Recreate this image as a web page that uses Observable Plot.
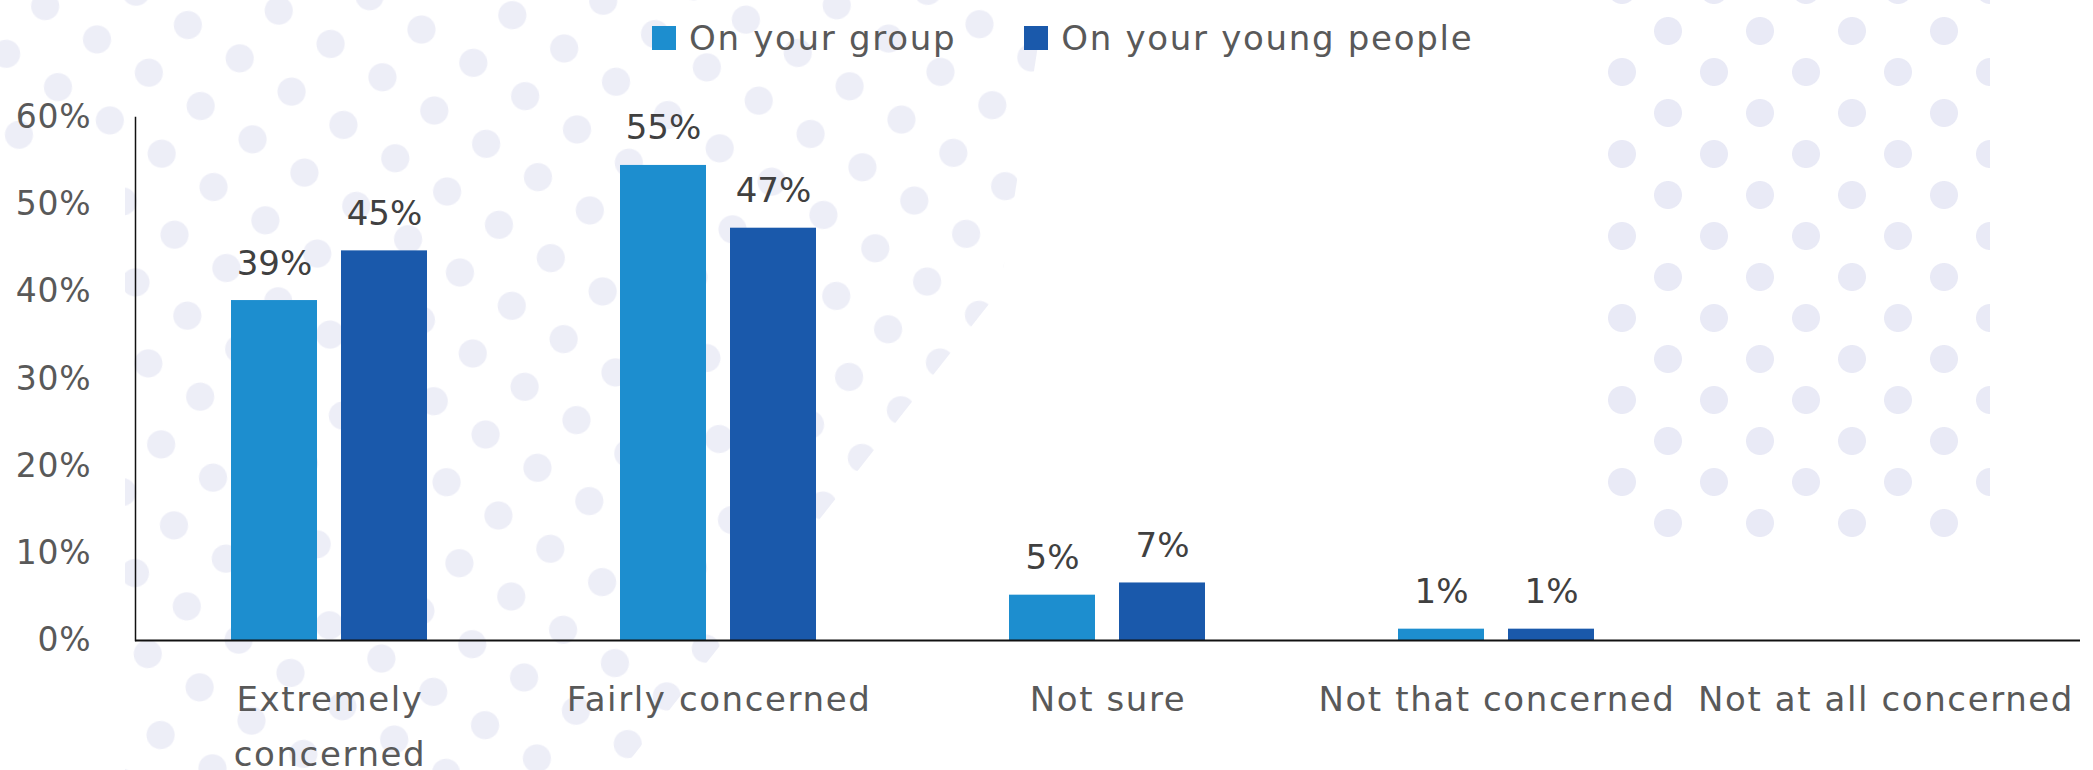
<!DOCTYPE html>
<html>
<head>
<meta charset="utf-8">
<script src="https://cdn.jsdelivr.net/npm/d3@7"></script>
<script src="https://cdn.jsdelivr.net/npm/@observablehq/plot@0.6"></script>
<style>
  html, body { margin: 0; padding: 0; background: #ffffff; }
  body { width: 2093px; height: 770px; overflow: hidden; position: relative; font-family: "DejaVu Sans", sans-serif; }
  .dots-right {
    position: absolute; left: 1600px; top: 0; width: 390px; height: 540px;
    background-image:
      radial-gradient(circle at 22px 55px, #e9eaf6 13.5px, rgba(233,234,246,0) 14.5px),
      radial-gradient(circle at 68px 14px, #e9eaf6 13.5px, rgba(233,234,246,0) 14.5px);
    background-size: 92px 82px;
    background-position: 0 17px;
  }
  .dots-left-clip {
    position: absolute; left: 0; top: 0; width: 1100px; height: 770px; overflow: hidden;
    clip-path: polygon(0 0, 1045px 0, 1000px 290px, 622px 770px, 125px 770px, 125px 150px, 0 150px);
  }
  .dots-left {
    position: absolute; left: -400px; top: -500px; width: 1900px; height: 1800px;
    transform: rotate(-9deg);
    opacity: 0.8;
    background-image:
      radial-gradient(circle at 22px 55px, #e9eaf6 13.5px, rgba(233,234,246,0) 14.5px),
      radial-gradient(circle at 68px 14px, #e9eaf6 13.5px, rgba(233,234,246,0) 14.5px);
    background-size: 92px 82px;
    background-position: 77px 8px;
  }
  #legend {
    position: absolute; left: 652px; top: 18px; display: flex; align-items: center;
    font-size: 34px; letter-spacing: 1.7px; color: #595959; font-family: "DejaVu Sans", sans-serif;
  }
  #legend .item { display: flex; align-items: center; margin-right: 68px; }
  #legend .sw { width: 24px; height: 24px; margin-right: 13px; }
  #chart { position: absolute; left: 0; top: 70px; }
  #chart svg g[aria-label="fx-axis tick label"] text { letter-spacing: 1.6px; }
  #chart svg g[aria-label="y-axis tick label"] text { letter-spacing: 0.8px; }
</style>
</head>
<body>
<div class="dots-left-clip"><div class="dots-left"></div></div>
<div class="dots-right"></div>
<div id="legend"></div>
<div id="chart"></div>
<script>
// ---- data ----
const categories = ["Extremely concerned", "Fairly concerned", "Not sure", "Not that concerned", "Not at all concerned"];
const series = ["On your group", "On your young people"];
const groupValues = [39.0, 54.5, 5.2, 1.3, null];
const youngValues = [44.7, 47.3, 6.6, 1.3, null];
const seriesColors = ["#1d8ecf", "#1a59ab"];
const yTicks = [0, 10, 20, 30, 40, 50, 60];
const tickLabelText = {"Extremely concerned": "Extremely\nconcerned"};

const rows = [];
categories.forEach((c, i) => {
  [groupValues, youngValues].forEach((vals, j) => {
    if (vals[i] != null) rows.push({category: c, series: series[j], value: vals[i]});
  });
});

// ---- legend ----
const legend = document.getElementById("legend");
series.forEach((s, i) => {
  const item = document.createElement("div");
  item.className = "item";
  const sw = document.createElement("div");
  sw.className = "sw";
  sw.style.background = seriesColors[i];
  const label = document.createElement("span");
  label.textContent = s;
  item.appendChild(sw);
  item.appendChild(label);
  legend.appendChild(item);
});

// ---- chart ----
const chart = Plot.plot({
  width: 2093,
  height: 700,
  marginLeft: 134,
  marginRight: 13,
  marginTop: 47,
  marginBottom: 130,
  style: {background: "transparent", fontFamily: "DejaVu Sans, sans-serif", overflow: "visible"},
  fx: {domain: categories, padding: 0},
  x: {domain: series, paddingInner: 0.216, paddingOuter: 0.865, axis: null},
  y: {domain: [0, 60]},
  color: {domain: series, range: seriesColors},
  marks: [
    Plot.barY(rows, {fx: "category", x: "series", y: "value", fill: "series"}),
    Plot.text(rows, {
      fx: "category", x: "series", y: "value",
      text: d => Math.round(d.value) + "%",
      lineAnchor: "bottom", dy: -26,
      fontSize: 34, fill: "#404040"
    }),
    Plot.ruleY(categories, {fx: d => d, y: () => 0, stroke: "#111", strokeWidth: 2}),
    Plot.frame({anchor: "left", facetAnchor: "left", stroke: "#111", strokeWidth: 1.5}),
    Plot.axisY({
      ticks: yTicks, tickFormat: d => d + "%", tickSize: 0, tickPadding: 44,
      fontSize: 33, fill: "#595959", label: null
    }),
    Plot.axisFx({
      anchor: "bottom",
      tickSize: 0, tickPadding: 32, fontSize: 34, fill: "#595959",
      lineHeight: 1.6, label: null,
      tickFormat: d => tickLabelText[d] ?? d
    })
  ]
});
document.getElementById("chart").appendChild(chart);
</script>
</body>
</html>
